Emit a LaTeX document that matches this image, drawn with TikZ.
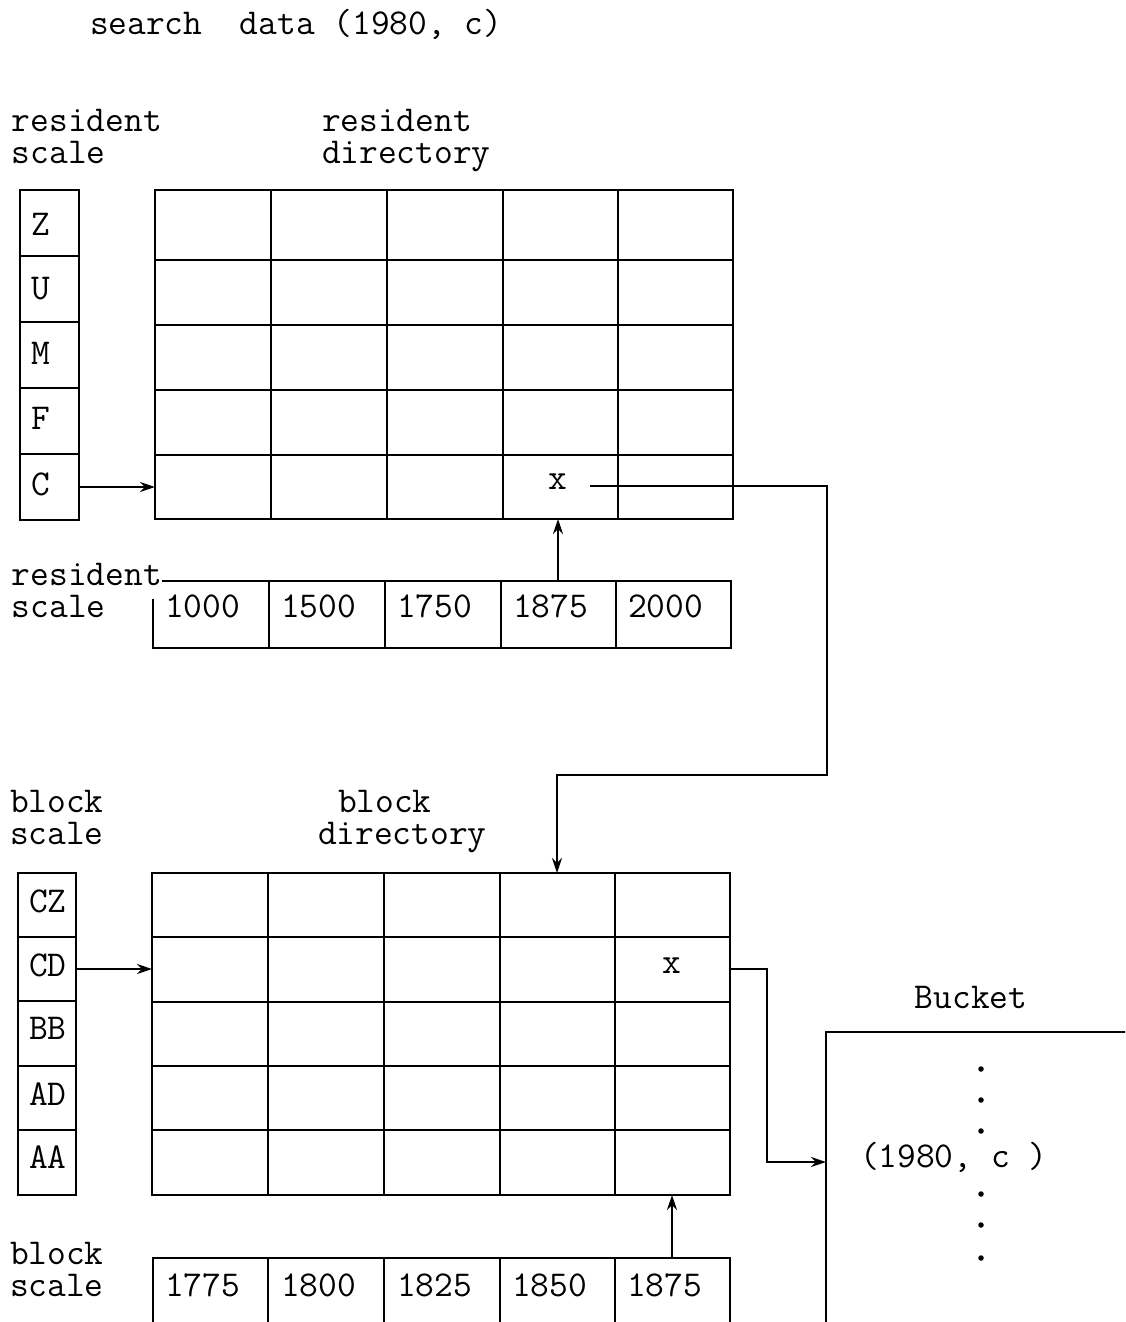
\documentclass[tikz,border=0pt]{standalone}
\usepackage{fontspec}
\usetikzlibrary{arrows.meta}
\begin{document}
\begin{tikzpicture}[x=1pt,y=-1pt,
  every node/.style={font=\ttfamily\fontsize{36.4}{32}\selectfont, inner sep=0pt, outer sep=0pt},
  ln/.style={line width=2.8pt, line cap=rect},
  conn/.style={line width=2.4pt},
  arr/.style={conn, -{Stealth[length=15pt,width=10pt]}},
  lbl/.style={anchor=base west},
  twoline/.style={anchor=base west, align=left},
  celltxt/.style={anchor=west},
  dotmark/.style={circle, fill=black, minimum size=5.5pt, inner sep=0pt}]
\useasboundingbox (0,0) rectangle (1125,1322);
\clip (0,0) rectangle (1125,1322);
\fill[white] (0,0) rectangle (1125,1322);

% title
\node[lbl] (title) at (90,35) {search\ \ data (1980, c)};

% ---------- resident section labels (anchor = baseline of last line)
\node[twoline] (rsl) at (12,163) {resident\\scale};
\node[twoline] (rdl) at (322,163) {resident\\directory};

% resident scale column
\draw[ln] (20,190) rectangle (79,520);
\foreach \y in {256,322,388,454} \draw[ln] (20,\y) -- (79,\y);
\node[celltxt] (rsZ) at (31,224) {Z};
\node[celltxt] (rsU) at (31,289) {U};
\node[celltxt] (rsM) at (31,353) {M};
\node[celltxt] (rsF) at (31,418) {F};
\node[celltxt] (rsC) at (31,484) {C};
\coordinate (rsCe) at (79,487);

% resident directory grid
\draw[ln] (155,190) rectangle (733,519);
\foreach \x in {271,387,503,618} \draw[ln] (\x,190) -- (\x,519);
\foreach \y in {260,325,390,455} \draw[ln] (155,\y) -- (733,\y);
\coordinate (rdC) at (155,487);
\node (rdx) at (558,482) {x};
\coordinate (rdxe) at (590,486);
\coordinate (rdxb) at (558,519);

% resident bottom scale
\node[twoline] (rbl) at (12,617) {resident\\scale};
\draw[ln] (163,581) -- (731,581) -- (731,648) -- (153,648) -- (153,600);
\foreach \x in {269,385,501,616} \draw[ln] (\x,581) -- (\x,648);
\node[lbl] (rb1) at (165,617) {1000};
\node[lbl] (rb2) at (281,617) {1500};
\node[lbl] (rb3) at (397,617) {1750};
\node[lbl] (rb4) at (513,617) {1875};
\node[lbl] (rb5) at (628,617) {2000};
\coordinate (rb4t) at (558,581);

% ---------- block section labels
\node[twoline] (bsl) at (10,844) {block\\scale};
\node[lbl] (bdl1) at (338,812) {block};
\node[lbl] (bdl2) at (318,844) {directory};

% block scale column
\draw[ln] (18,873) rectangle (76,1195);
\foreach \y in {937,1001,1066,1130} \draw[ln] (18,\y) -- (76,\y);
\node[celltxt] (bsCZ) at (29,901) {CZ};
\node[celltxt] (bsCD) at (29,965) {CD};
\node[celltxt] (bsBB) at (29,1028) {BB};
\node[celltxt] (bsAD) at (29,1094) {AD};
\node[celltxt] (bsAA) at (29,1157) {AA};
\coordinate (bsCDe) at (76,969);

% block directory grid
\draw[ln] (152,873) rectangle (730,1195);
\foreach \x in {268,384,500,615} \draw[ln] (\x,873) -- (\x,1195);
\foreach \y in {937,1002,1066,1130} \draw[ln] (152,\y) -- (730,\y);
\coordinate (bdCD) at (152,969);
\coordinate (bdtop) at (557,873);
\node (bdx) at (672,966) {x};
\coordinate (bdxe) at (730,969);
\coordinate (bdxb) at (672,1195);

% block bottom scale
\node[twoline] (bbl) at (10,1296) {block\\scale};
\draw[ln] (153,1340) -- (153,1258) -- (730,1258) -- (730,1340);
\foreach \x in {268,384,500,615} \draw[ln] (\x,1258) -- (\x,1340);
\node[lbl] (bb1) at (165,1296) {1775};
\node[lbl] (bb2) at (281,1296) {1800};
\node[lbl] (bb3) at (397,1296) {1825};
\node[lbl] (bb4) at (512,1296) {1850};
\node[lbl] (bb5) at (627,1296) {1875};
\coordinate (bb5t) at (672,1258);

% bucket
\node (bucket) at (971,997) {Bucket};
\draw[ln] (826,1340) -- (826,1032) -- (1140,1032);
\coordinate (bkin) at (826,1162);
\node[anchor=west] (rec) at (860,1157) {(1980, c )};
\foreach \y [count=\i] in {1069,1100,1131,1194,1225,1258}
  \node[dotmark] (d\i) at (981,\y) {};

% ---------- connectors
\draw[arr] (rsCe) -- (rdC);
\draw[arr] (rb4t) -- (rdxb);
\draw[arr] (rdxe) -- (827,486) -- (827,775) -- (557,775) -- (bdtop);
\draw[arr] (bsCDe) -- (bdCD);
\draw[arr] (bdxe) -- (767,969) -- (767,1162) -- (bkin);
\draw[arr] (bb5t) -- (bdxb);
\end{tikzpicture}
\end{document}
